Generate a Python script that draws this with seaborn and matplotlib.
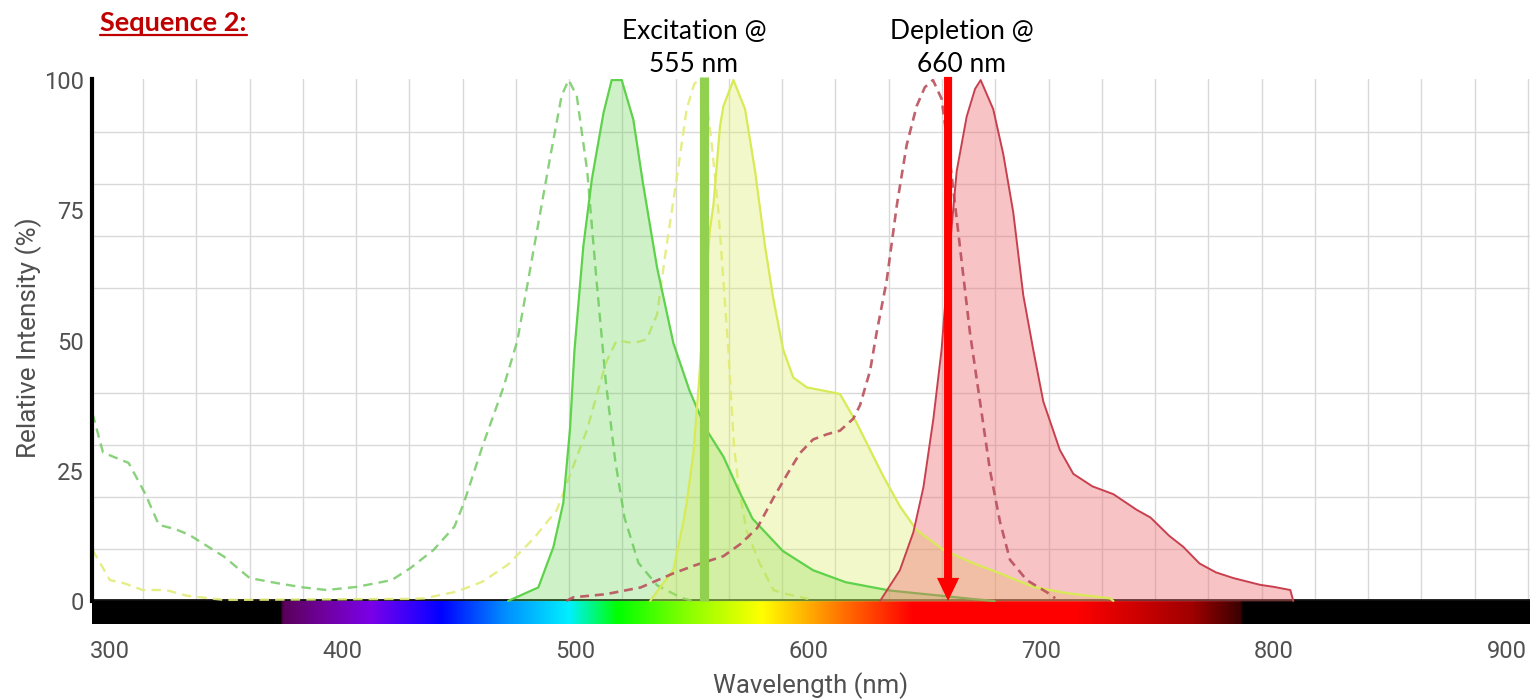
import numpy as np
import pandas as pd
import matplotlib
matplotlib.use("Agg")
import matplotlib.pyplot as plt
import seaborn as sns
from matplotlib.colors import LinearSegmentedColormap
from matplotlib.lines import Line2D

# ---------------- data ----------------
green_ex_nm = [292.5, 297, 303, 308, 315, 321, 328, 334, 349, 360, 372, 383, 393, 406, 421, 429,
               439, 448, 452, 460, 469, 475, 483, 489, 494, 497, 500.5, 505, 509, 513, 517, 521,
               527, 535, 545, 550]
green_ex_val = [36, 28.5, 27.4, 26.5, 20.7, 14.6, 13.8, 12.7, 8.5, 4.4, 3.4, 2.6, 2.1, 2.7, 4.0, 6.3,
                9.8, 14.3, 18.8, 29.7, 41, 50, 70, 85, 97, 100, 97, 82.5, 61.5, 42, 27, 16,
                7.3, 3, 0.7, 0]

green_em_nm = [471, 484, 490.5, 494.7, 497.6, 499.5, 503.3, 507, 512, 515.5, 519.8, 524.8, 529, 535,
               542, 549, 556, 563.5, 570, 576, 589, 602, 616, 635, 657, 670, 680]
green_em_val = [0, 2.6, 10.4, 18.8, 33, 48, 68, 81, 93.7, 100, 100, 92.4, 80, 64,
                49.5, 40.3, 33, 27.7, 21.3, 15.8, 9.6, 5.9, 3.6, 2, 1, 0.4, 0]

yellow_ex_nm = [292.5, 300, 306, 314, 324, 333, 349, 430, 435, 449, 460, 471, 482, 492, 505, 510,
                513.3, 517.6, 525, 530.5, 535, 539, 543.4, 547.7, 551, 553, 555.6, 558.4, 561.3,
                563.5, 565.6, 568, 570, 573.5, 579, 585, 589, 600]
yellow_ex_val = [9.8, 4.0, 3.4, 2.1, 2.1, 1.0, 0.2, 0.4, 0.5, 1.8, 3.7, 7, 12, 17.5, 33, 41,
                 46, 50, 49.5, 50.2, 55, 68, 81, 94.4, 99.3, 100, 99, 88, 75,
                 61.4, 48.2, 30, 22, 13.4, 7.3, 2.1, 1.5, 0.4]

yellow_em_nm = [532, 542, 546.3, 547.7, 550.6, 553, 554.9, 557.7, 559.2, 562, 563.5, 567.8, 572.8,
                577.1, 581.4, 584.9, 589.2, 593.5, 599.3, 610.7, 613.6, 620.7, 626.5, 632.2,
                639.4, 646.5, 658, 671, 682.3, 696.6, 711, 729.6, 731]
yellow_em_val = [0, 6, 15.2, 18.8, 28.4, 42, 54.8, 71.3, 76, 91, 95, 100, 94.4,
                 82.5, 68, 58.1, 48.2, 42.9, 41, 40, 39.7, 34.2, 29, 23.9,
                 18.1, 13.6, 9.8, 7.2, 5.3, 2.7, 1.5, 0.5, 0]

red_ex_nm = [496, 499, 513, 528, 542, 551, 563.5, 571, 578, 585, 591, 596.4, 602, 608, 613.6,
             619.3, 622.2, 626.5, 629.3, 633.6, 638, 642.2, 646.5, 650, 653.5, 657.2, 660.8,
             665.1, 669.4, 673.7, 678, 682.3, 686.6, 693.8, 703.8, 706]
red_ex_val = [0, 0.7, 1.3, 2.6, 5.3, 6.8, 8.6, 11, 14, 19.8, 24.4, 28.4, 31, 32, 32.7,
              35, 37.6, 44.2, 51.5, 61.4, 76, 87.5, 95, 98.6, 100, 96.4, 84.5,
              68, 51.5, 38.3, 25.1, 15.2, 7.9, 4, 1.3, 0.5]

red_em_nm = [630.8, 639.3, 645.1, 649.4, 653.7, 657.2, 660.1, 663.7, 668, 671.6, 674, 679.4,
             683.7, 688, 692.3, 696.6, 700.9, 708, 713.8, 722, 731, 741, 747, 755, 761, 768,
             775, 782.5, 794, 800, 807, 808.3]
red_em_val = [0, 5.9, 13.2, 21.8, 35, 48.2, 64.7, 82.5, 93, 98.3, 100, 94.4,
              85.8, 74.6, 58.7, 48.2, 38.3, 29, 24.4, 22, 20.5, 17.5, 16, 12.5, 10.4, 7.2,
              5.5, 4.4, 3.1, 2.7, 2.1, 0]

x_tick_values = [300, 400, 500, 600, 700, 800, 900]
y_tick_values = [0, 25, 50, 75, 100]
excitation_nm = 555
depletion_nm = 660
excitation_label = "Excitation @\n555 nm"
depletion_label = "Depletion @\n660 nm"
title_text = "Sequence 2:"

# spectrum bar colour stops
spec_nm = [292.27, 373, 374, 392, 412, 435, 442, 470, 497, 518, 550, 580, 615, 645, 715, 765, 786, 787, 910]
spec_col = ["#000000", "#000000", "#5a0058", "#7000a0", "#7a00e8", "#2000ff", "#0000ff", "#0090ff",
            "#00f0ff", "#00ff00", "#90ff00", "#ffff00", "#ff7000", "#ff0000", "#ff0000", "#a00000",
            "#3a0000", "#000000", "#000000"]

# ---------------- figure ----------------
sns.set_theme(style="white")
plt.rcParams["font.family"] = ["Roboto", "DejaVu Sans"]

W, H = 1530, 700
XMIN, XMAX = 292.27, 909.97
YMIN, YMAX = -4.5, 100.2

fig = plt.figure(figsize=(W / 100, H / 100), dpi=100)
ax = fig.add_axes([92 / W, 1 - 624.4 / H, 1 - 92 / W, (624.4 - 79) / H])
ax.set_facecolor("white")

# grid
ax.set_xticks(np.arange(314.2, XMAX, 22.88), minor=True)
ax.set_yticks(np.arange(10, 101, 10), minor=True)
ax.grid(which="minor", color="#d9d9d9", lw=1.0)
ax.grid(which="major", visible=False)
ax.set_axisbelow(True)

# spectrum bar
span = XMAX - XMIN
stops = [((v - XMIN) / span, c) for v, c in zip(spec_nm, spec_col)]
stops[0] = (0.0, stops[0][1]); stops[-1] = (1.0, stops[-1][1])
cmap = LinearSegmentedColormap.from_list("spec", stops, N=1024)
bar = cmap(np.linspace(0, 1, 1600))[None, :, :]
ax.imshow(bar, extent=[XMIN, XMAX, YMIN, 0.1], aspect="auto", zorder=1, interpolation="bilinear")
ax.axhline(0.1, color="#111111", lw=1.3, zorder=1.5)

def dye(nm, val, color, fill=None, falpha=0.3, lw=1.4, dash=None, alpha=1.0, z=2):
    df = pd.DataFrame({"nm": nm, "val": val})
    if fill is not None:
        ax.fill_between(df["nm"], 0, df["val"], color=fill, alpha=falpha, lw=0, zorder=z)
    sns.lineplot(data=df, x="nm", y="val", ax=ax, color=color, lw=lw, alpha=alpha,
                 sort=False, estimator=None, zorder=z + 0.5)
    if dash is not None:
        ax.lines[-1].set_dashes(dash)

dye(green_ex_nm, green_ex_val, "#74c964", lw=1.7, dash=(4, 2.6), alpha=0.85, z=2)
dye(yellow_ex_nm, yellow_ex_val, "#e3ec7a", lw=1.7, dash=(4, 2.6), alpha=0.9, z=2)
dye(green_em_nm, green_em_val, "#5ed24a", fill="#5ed24a", falpha=0.3, lw=1.6, z=3)
dye(yellow_em_nm, yellow_em_val, "#d8ea55", fill="#dcec5a", falpha=0.32, lw=1.6, z=3.2)
dye(red_ex_nm, red_ex_val, "#b9505c", lw=1.9, dash=(3.4, 2.2), alpha=0.9, z=3.4)
dye(red_em_nm, red_em_val, "#c8404e", fill="#ee6a6e", falpha=0.4, lw=1.4, z=3.6)

# excitation bar and depletion arrow
ax.plot([excitation_nm, excitation_nm], [0, 100.6], color="#92d050", lw=6.6,
        solid_capstyle="butt", clip_on=False, zorder=6)
ax.annotate("", xy=(depletion_nm, 0), xytext=(depletion_nm, 100.6),
            arrowprops=dict(arrowstyle="simple,head_width=0.8,head_length=0.83,tail_width=0.29",
                            mutation_scale=20, color="#ff0000", lw=0, shrinkA=0, shrinkB=0),
            annotation_clip=False, zorder=7)

# annotation texts
for lbl, xv, dx in [(excitation_label, excitation_nm, -7), (depletion_label, depletion_nm, 9.7)]:
    ax.annotate(lbl, xy=(xv, 1), xycoords=("data", "axes fraction"),
                xytext=(dx, 1.5), textcoords="offset points", ha="center", va="bottom",
                fontsize=19, family=["Lato", "DejaVu Sans"], color="black", linespacing=1.38,
                annotation_clip=False)

# axes styling
ax.set_xlim(XMIN, XMAX)
ax.set_ylim(YMIN, YMAX)
ax.set_xticks(x_tick_values)
ax.set_xticklabels([str(v) for v in x_tick_values])
ax.set_yticks(y_tick_values)
ax.set_yticklabels([str(v) for v in y_tick_values])
ax.tick_params(axis="both", which="both", length=0, labelsize=17, labelcolor="#505050")
ax.tick_params(axis="x", pad=11)
ax.tick_params(axis="y", pad=6)
for s in ["top", "right", "bottom"]:
    ax.spines[s].set_visible(False)
ax.spines["left"].set_visible(True)
ax.spines["left"].set_color("black")
ax.spines["left"].set_linewidth(3)
ax.spines["left"].set_bounds(0, YMAX)
ax.spines["left"].set_zorder(8)

ax.set_xlabel("Wavelength (nm)", fontsize=18.5, color="#505050")
ax.set_ylabel("Relative Intensity (%)", fontsize=18.8, color="#505050")
ax.xaxis.set_label_coords(0.5, -0.088)
ax.yaxis.set_label_coords(-0.0345, 0.525)

# title with underline
t = fig.text(100 / W, 1 - 31 / H, title_text, color="#c00000", fontsize=19.5,
             fontweight="bold", family=["Lato", "DejaVu Sans"], ha="left", va="baseline")
fig.canvas.draw()
bb = t.get_window_extent()
uy = 1 - 34.5 / H
fig.add_artist(Line2D([bb.x0 / W, bb.x1 / W], [uy, uy], transform=fig.transFigure,
                      color="#c00000", lw=1.6))

fig.savefig("out.png", dpi=100)
